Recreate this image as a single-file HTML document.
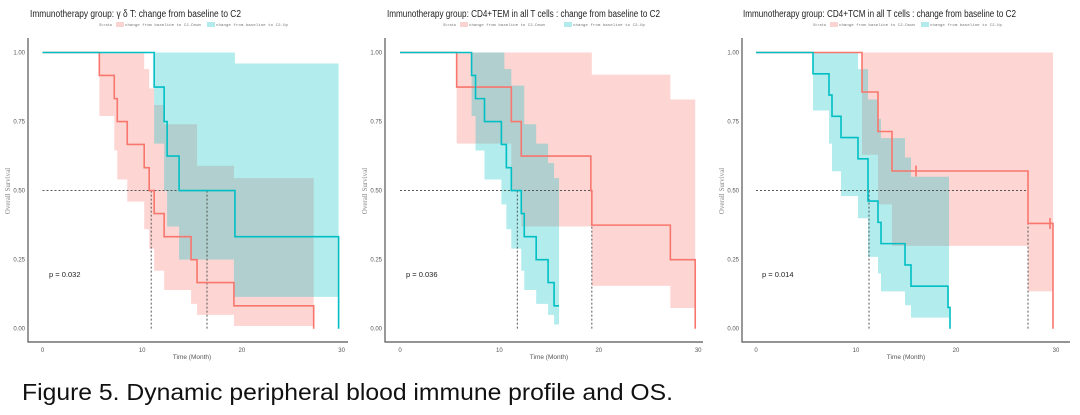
<!DOCTYPE html>
<html><head><meta charset="utf-8"><style>
html,body{margin:0;padding:0;background:#fff;}
svg{display:block;}
text{font-family:"Liberation Sans",sans-serif;}
.ci{stroke:none;}
.r{fill:rgba(248,118,109,0.3);}
.c{fill:rgba(0,191,196,0.3);}
.lr{fill:none;stroke:#F8766D;stroke-width:1.6;vector-effect:non-scaling-stroke;}
.lc{fill:none;stroke:#00BFC4;stroke-width:1.6;vector-effect:non-scaling-stroke;}
.md{fill:none;stroke:#444;stroke-width:0.9;stroke-dasharray:2,2;vector-effect:non-scaling-stroke;}
.ax{stroke:#555;stroke-width:1.2;fill:none;}
.tk{font-size:6px;fill:#555;}
.ti{font-size:10px;fill:#222;}
.lg{font-size:3.6px;fill:#777;font-family:"Liberation Mono",monospace;}
.yl{font-size:7px;fill:#888;font-family:"Liberation Serif",serif;}
.xl{font-size:6.5px;fill:#555;}
.p{font-size:7.5px;fill:#222;}
</style></head><body>
<svg width="1080" height="415" viewBox="0 0 1080 415" xmlns="http://www.w3.org/2000/svg">
<!-- Panel 1 -->
<text class="ti" x="30" y="17" textLength="211" lengthAdjust="spacingAndGlyphs">Immunotherapy group:  γ δ T: change from baseline to C2</text>
<text class="lg" x="99" y="26">Strata</text>
<rect x="116" y="22" width="8" height="5" fill="#FAD4D2"/>
<text class="lg" x="125" y="26" textLength="76" lengthAdjust="spacingAndGlyphs">change from baseline to C2-Down</text>
<rect x="207" y="22" width="8" height="5" fill="#B3EBEC"/>
<text class="lg" x="216" y="26" textLength="72" lengthAdjust="spacingAndGlyphs">change from baseline to C2-Up</text>
<path class="ax" d="M28,38 V342 H348"/>
<g class="tk" text-anchor="end"><text x="25" y="54.5">1.00</text><text x="25" y="123.5">0.75</text><text x="25" y="192.6">0.50</text><text x="25" y="261.6">0.25</text><text x="25" y="330.7">0.00</text></g>
<g class="tk" text-anchor="middle"><text x="42.5" y="352">0</text><text x="142.2" y="352">10</text><text x="241.9" y="352">20</text><text x="341.6" y="352">30</text></g>
<text class="yl" transform="translate(10,191) rotate(-90)" text-anchor="middle">Overall Survival</text>
<text class="xl" x="192" y="359" text-anchor="middle">Time (Month)</text>
<text class="p" x="49" y="277">p = 0.032</text>
<g transform="translate(42.5,328.7) scale(9.97,-276.2)">
<path class="ci r" d="M5.7,1 H10.2 V.94 H10.7 V.87 H11.2 V.81 H12.2 V.74 H15.5 V.59 H19.2 V.545 H27.2 V.01 H19.2 V.05 H15.5 V.09 H14.9 V.14 H12.2 V.21 H11.2 V.29 H10.7 V.36 H10.2 V.46 H8.5 V.54 H7.5 V.645 H7.2 V.77 H5.7 Z"/>
<path class="ci c" d="M11.2,1 H19.3 V.96 H29.7 V.115 H19.2 V.25 H13.7 V.37 H12.5 V.5 H12.2 V.67 H11.2 Z"/>
<path class="md" d="M0,.5 H16.5 M10.9,.5 V0 M16.5,.5 V0"/>
<path class="lr" d="M0,1 H5.7 V.917 H7.2 V.833 H7.5 V.75 H8.5 V.667 H10.2 V.583 H10.7 V.5 H11.2 V.417 H12.2 V.333 H14.9 V.25 H15.5 V.167 H19.2 V.083 H27.2 V0"/>
<path class="lc" d="M0,1 H11.2 V.875 H12.2 V.75 H12.5 V.625 H13.7 V.5 H19.3 V.333 H29.7 V0"/>
</g>

<!-- Panel 2 -->
<text class="ti" x="387" y="17" textLength="273" lengthAdjust="spacingAndGlyphs">Immunotherapy group:  CD4+TEM in all T cells : change from baseline to C2</text>
<text class="lg" x="443" y="26">Strata</text>
<rect x="460" y="22" width="8" height="5" fill="#FAD4D2"/>
<text class="lg" x="469" y="26" textLength="76" lengthAdjust="spacingAndGlyphs">change from baseline to C2-Down</text>
<rect x="564" y="22" width="8" height="5" fill="#B3EBEC"/>
<text class="lg" x="573" y="26" textLength="72" lengthAdjust="spacingAndGlyphs">change from baseline to C2-Up</text>
<path class="ax" d="M385,38 V342 H703"/>
<g class="tk" text-anchor="end"><text x="382" y="54.5">1.00</text><text x="382" y="123.5">0.75</text><text x="382" y="192.6">0.50</text><text x="382" y="261.6">0.25</text><text x="382" y="330.7">0.00</text></g>
<g class="tk" text-anchor="middle"><text x="400" y="352">0</text><text x="499.4" y="352">10</text><text x="598.8" y="352">20</text><text x="698.2" y="352">30</text></g>
<text class="yl" transform="translate(367,191) rotate(-90)" text-anchor="middle">Overall Survival</text>
<text class="xl" x="549" y="359" text-anchor="middle">Time (Month)</text>
<text class="p" x="406" y="277">p = 0.036</text>
<g transform="translate(400,328.7) scale(9.94,-276.2)">
<path class="ci r" d="M5.7,1 H19.3 V.92 H27.2 V.83 H29.7 V.075 H27.2 V.155 H19.3 V.37 H12.2 V.5 H11.2 V.67 H5.7 Z"/>
<path class="ci c" d="M7.2,1 H10.5 V.94 H11.2 V.88 H12.5 V.74 H13.7 V.67 H14.9 V.6 H15.5 V.545 H16 V.015 H15.5 V.05 H14.9 V.09 H13.7 V.14 H12.5 V.21 H12.2 V.29 H11.2 V.36 H10.7 V.45 H10.2 V.54 H8.5 V.645 H7.6 V.77 H7.2 Z"/>
<path class="md" d="M0,.5 H19.3 M11.8,.5 V0 M19.3,.5 V0"/>
<path class="lr" d="M0,1 H5.7 V.875 H11.2 V.75 H12.2 V.625 H19.2 V.5 H19.3 V.375 H27.2 V.25 H29.7 V0"/>
<path class="lc" d="M0,1 H7.2 V.917 H7.6 V.833 H8.5 V.75 H10.2 V.667 H10.7 V.583 H11.2 V.5 H12.2 V.417 H12.5 V.333 H13.7 V.25 H14.9 V.167 H15.5 V.083 H16"/>
</g>

<!-- Panel 3 -->
<text class="ti" x="743" y="17" textLength="273" lengthAdjust="spacingAndGlyphs">Immunotherapy group:  CD4+TCM in all T cells : change from baseline to C2</text>
<text class="lg" x="813" y="26">Strata</text>
<rect x="830" y="22" width="8" height="5" fill="#FAD4D2"/>
<text class="lg" x="839" y="26" textLength="76" lengthAdjust="spacingAndGlyphs">change from baseline to C2-Down</text>
<rect x="921" y="22" width="8" height="5" fill="#B3EBEC"/>
<text class="lg" x="930" y="26" textLength="72" lengthAdjust="spacingAndGlyphs">change from baseline to C2-Up</text>
<path class="ax" d="M742,38 V342 H1070"/>
<g class="tk" text-anchor="end"><text x="739" y="54.5">1.00</text><text x="739" y="123.5">0.75</text><text x="739" y="192.6">0.50</text><text x="739" y="261.6">0.25</text><text x="739" y="330.7">0.00</text></g>
<g class="tk" text-anchor="middle"><text x="756" y="352">0</text><text x="856" y="352">10</text><text x="956" y="352">20</text><text x="1056" y="352">30</text></g>
<text class="yl" transform="translate(724,191) rotate(-90)" text-anchor="middle">Overall Survival</text>
<text class="xl" x="906" y="359" text-anchor="middle">Time (Month)</text>
<text class="p" x="762" y="277">p = 0.014</text>
<g transform="translate(756,328.7) scale(10,-276.2)">
<path class="ci r" d="M10.6,1 H29.7 V.135 H27.2 V.30 H13.6 V.45 H12.2 V.63 H10.6 Z"/>
<path class="ci c" d="M5.7,1 H10.2 V.94 H11.2 V.83 H12.2 V.76 H12.5 V.69 H14.9 V.62 H15.5 V.55 H19.3 V.04 H15.5 V.085 H14.9 V.135 H12.5 V.2 H12.2 V.26 H11.2 V.40 H10.2 V.48 H8.5 V.57 H7.6 V.67 H7.3 V.79 H5.7 Z"/>
<path class="md" d="M0,.5 H27.2 M11.3,.5 V0 M27.2,.5 V0"/>
<path class="lr" d="M0,1 H10.6 V.857 H12.2 V.714 H13.6 V.571 H27.2 V.381 H29.7 V0 M16,.551 V.591 M29.4,.361 V.401"/>
<path class="lc" d="M0,1 H5.7 V.923 H7.3 V.846 H7.6 V.769 H8.5 V.692 H10.2 V.615 H11.2 V.462 H12.2 V.385 H12.5 V.308 H14.9 V.231 H15.5 V.154 H19.2 V.077 H19.4 V0"/>
</g>

<text x="22" y="400" font-size="23" fill="#111" textLength="651" lengthAdjust="spacingAndGlyphs">Figure 5. Dynamic peripheral blood immune profile and OS.</text>
</svg>
</body></html>
